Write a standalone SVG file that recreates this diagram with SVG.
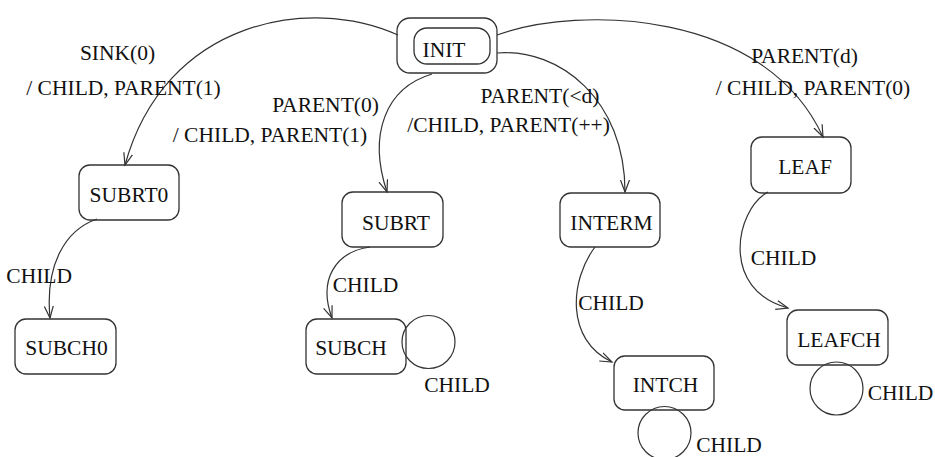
<svg xmlns="http://www.w3.org/2000/svg" width="935" height="457" viewBox="0 0 935 457">
<style>
.box{fill:none;stroke:#333;stroke-width:1.3}
.edge{fill:none;stroke:#333;stroke-width:1.2}
text{font-family:"Liberation Serif","Times New Roman",serif;font-size:21.5px;fill:#111}
.m{text-anchor:middle}
</style>
<defs>
<marker id="arr" markerUnits="userSpaceOnUse" markerWidth="14" markerHeight="12" refX="12" refY="5" orient="auto" viewBox="0 0 14 10">
<path d="M0,0.5 L12,5 L0,9.5" fill="none" stroke="#333" stroke-width="1.2"/>
</marker>
</defs>
<rect width="935" height="457" fill="#fff"/>
<g id="connectors">
<path class="edge" d="M398,35 C310,-5 165,20 125,165" marker-end="url(#arr)"/>
<path class="edge" d="M432,74 C385,88 368,135 387,192" marker-end="url(#arr)"/>
<path class="edge" d="M497,53 C560,48 625,100 625,192" marker-end="url(#arr)"/>
<path class="edge" d="M497,35 C580,5 765,10 823,137" marker-end="url(#arr)"/>
<path class="edge" d="M97,219 C65,230 45,265 50,318" marker-end="url(#arr)"/>
<path class="edge" d="M370,247 C335,252 318,280 332,318" marker-end="url(#arr)"/>
<path class="edge" d="M595,247 C570,280 565,340 612,362" marker-end="url(#arr)"/>
<path class="edge" d="M768,192 C735,210 720,290 788,308" marker-end="url(#arr)"/>
<circle class="edge" cx="428.5" cy="342" r="26.5"/>
<circle class="edge" cx="664.5" cy="433" r="26.5"/>
<circle class="edge" cx="836.5" cy="388.5" r="26.5"/>
<text class="m" x="117.5" y="60">SINK(0)</text>
<text class="m" x="123.5" y="95">/ CHILD, PARENT(1)</text>
<text class="m" x="325.5" y="112">PARENT(0)</text>
<text class="m" x="270" y="142">/ CHILD, PARENT(1)</text>
<text class="m" x="540" y="103">PARENT(&lt;d)</text>
<text class="m" x="508.5" y="132">/CHILD, PARENT(++)</text>
<text class="m" x="804.5" y="63">PARENT(d)</text>
<text class="m" x="813" y="95">/ CHILD, PARENT(0)</text>
<text x="72" y="283" text-anchor="end">CHILD</text>
<text class="m" x="365.5" y="292">CHILD</text>
<text class="m" x="611" y="310">CHILD</text>
<text class="m" x="783.5" y="265">CHILD</text>
<text class="m" x="457" y="392">CHILD</text>
<text class="m" x="729" y="452">CHILD</text>
<text class="m" x="900.5" y="400">CHILD</text>
</g>
<g id="INIT">
<rect class="box" x="397" y="18" width="100" height="55" rx="13"/>
<rect class="box" x="414" y="28" width="76" height="36" rx="13"/>
<text class="m" x="444" y="57">INIT</text>
</g>
<g id="SUBRT0">
<rect class="box" x="79" y="165" width="100" height="55" rx="11"/>
<text class="m" x="129" y="202">SUBRT0</text>
</g>
<g id="SUBRT">
<rect class="box" x="342" y="192" width="101" height="55" rx="11"/>
<text class="m" x="396" y="230">SUBRT</text>
</g>
<g id="INTERM">
<rect class="box" x="560" y="193" width="100" height="54" rx="11"/>
<text class="m" x="611.5" y="230">INTERM</text>
</g>
<g id="LEAF">
<rect class="box" x="751" y="137" width="100" height="56" rx="11"/>
<text class="m" x="805" y="174">LEAF</text>
</g>
<g id="SUBCH0">
<rect class="box" x="15" y="319" width="101" height="55" rx="11"/>
<text class="m" x="66.5" y="355">SUBCH0</text>
</g>
<g id="SUBCH">
<rect class="box" x="306" y="319" width="100" height="55" rx="11"/>
<text class="m" x="351" y="355">SUBCH</text>
</g>
<g id="INTCH">
<rect class="box" x="614" y="356" width="100" height="54" rx="11"/>
<text class="m" x="665.5" y="392">INTCH</text>
</g>
<g id="LEAFCH">
<rect class="box" x="787" y="310" width="101" height="55" rx="11"/>
<text class="m" x="839" y="347">LEAFCH</text>
</g>
</svg>
